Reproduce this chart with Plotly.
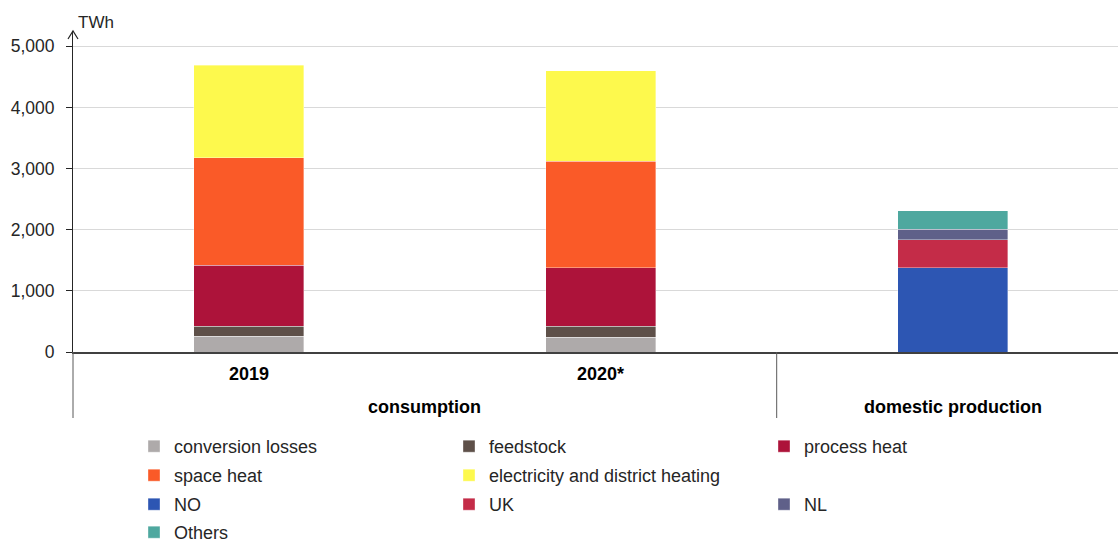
import plotly.graph_objects as go

# Categories on the x axis
categories = ["2019", "2020*", "domestic production"]
tick_labels = ["2019", "2020*"]
group_labels = ["consumption", "domestic production"]

# Consumption by use (TWh)
conversion_losses = [256, 240]
feedstock = [169, 185]
process_heat = [997, 953]
space_heat = [1753, 1743]
electricity_district_heating = [1519, 1482]

# Domestic production by origin (TWh)
prod_no = [1378]
prod_uk = [457]
prod_nl = [170]
prod_others = [304]

FONT = "Liberation Sans, Arial, sans-serif"
W, H = 1118, 545

# (name, values, colour, legend row)
consumption_series = [
    ("conversion losses", conversion_losses, "#aeaaaa", "legend"),
    ("feedstock", feedstock, "#5e5049", "legend"),
    ("process heat", process_heat, "#ad133a", "legend"),
    ("space heat", space_heat, "#fa5a28", "legend2"),
    ("electricity and district heating", electricity_district_heating, "#fdf94d", "legend2"),
]
production_series = [
    ("NO", prod_no, "#2d56b3", "legend3"),
    ("UK", prod_uk, "#c42c48", "legend3"),
    ("NL", prod_nl, "#5f6089", "legend3"),
    ("Others", prod_others, "#4ea89f", "legend4"),
]

fig = go.Figure()
for name, vals, color, leg in consumption_series:
    fig.add_trace(go.Bar(
        name=name, x=categories[:2], y=vals, legend=leg,
        marker=dict(color=color, line=dict(width=0.6, color="rgba(255,255,255,0.6)")),
        width=0.3125,
    ))
for name, vals, color, leg in production_series:
    fig.add_trace(go.Bar(
        name=name, x=categories[2:], y=vals, legend=leg,
        marker=dict(color=color, line=dict(width=0.6, color="rgba(255,255,255,0.6)")),
        width=0.3125,
    ))

# plot area: 0 at y=352 px, top of axis at about y=31 px
plot_h = H - 31 - 193

annotations = [
    dict(text="TWh", xref="paper", yref="paper", x=0, y=1, xanchor="left", yanchor="middle",
         xshift=3, yshift=9, showarrow=False, font=dict(family=FONT, size=17, color="#262626")),
]
for lab in tick_labels:
    annotations.append(dict(text="<b>%s</b>" % lab, xref="x", yref="paper",
                            x=categories.index(lab), y=0,
                            yanchor="middle", yshift=-22, showarrow=False,
                            font=dict(family=FONT, size=18, color="#000000")))
annotations.append(dict(text="<b>%s</b>" % group_labels[0], xref="x", yref="paper", x=0.5, y=0,
                        yanchor="middle", yshift=-55, showarrow=False,
                        font=dict(family=FONT, size=18, color="#000000")))
annotations.append(dict(text="<b>%s</b>" % group_labels[1], xref="x", yref="paper",
                        x=categories.index(group_labels[1]), y=0,
                        yanchor="middle", yshift=-55, showarrow=False,
                        font=dict(family=FONT, size=18, color="#000000")))

div_bottom = -(418 - 352) / plot_h
shapes = [
    # group dividers below the axis
    dict(type="line", xref="paper", yref="paper", x0=0, x1=0, y0=0, y1=div_bottom,
         line=dict(color="#595959", width=1)),
    dict(type="line", xref="x", yref="paper", x0=1.5, x1=1.5, y0=0, y1=div_bottom,
         line=dict(color="#595959", width=1)),
    # arrow head on top of the value axis
    dict(type="path", xref="paper", yref="paper", xsizemode="pixel", ysizemode="pixel",
         xanchor=0, yanchor=1, path="M -5,-8 L 0,0 L 5,-8",
         line=dict(color="#262626", width=1.2)),
]


def legend_row(top_px):
    return dict(
        orientation="h", xref="container", yref="container",
        x=134 / W, xanchor="left",
        y=1 - top_px / H, yanchor="top",
        entrywidth=270, entrywidthmode="pixels",
        font=dict(family=FONT, size=18, color="#262626"),
        traceorder="normal", bgcolor="rgba(0,0,0,0)",
    )


fig.update_layout(
    width=W, height=H,
    margin=dict(l=73, r=0, t=31, b=193, autoexpand=False),
    barmode="stack",
    plot_bgcolor="white", paper_bgcolor="white",
    font=dict(family=FONT, size=17, color="#262626"),
    xaxis=dict(
        type="category", categoryorder="array", categoryarray=categories,
        range=[-0.5, 2.47], showticklabels=False, ticks="",
        showline=True, linecolor="#404040", linewidth=1.5,
        showgrid=False, zeroline=False, fixedrange=True,
    ),
    yaxis=dict(
        range=[0, 5250], tickvals=[0, 1000, 2000, 3000, 4000, 5000],
        tickformat=",d", ticks="outside", ticklen=6, tickcolor="#262626",
        ticklabelstandoff=8,
        showline=True, linecolor="#262626", linewidth=1,
        showgrid=True, gridcolor="#d9d9d9", gridwidth=1,
        zeroline=False, tickfont=dict(family=FONT, size=17.5, color="#262626"),
    ),
    legend=legend_row(428),
    legend2=legend_row(457),
    legend3=legend_row(486),
    legend4=legend_row(514),
    annotations=annotations,
    shapes=shapes,
    showlegend=True,
)

fig.write_html("out.html")
